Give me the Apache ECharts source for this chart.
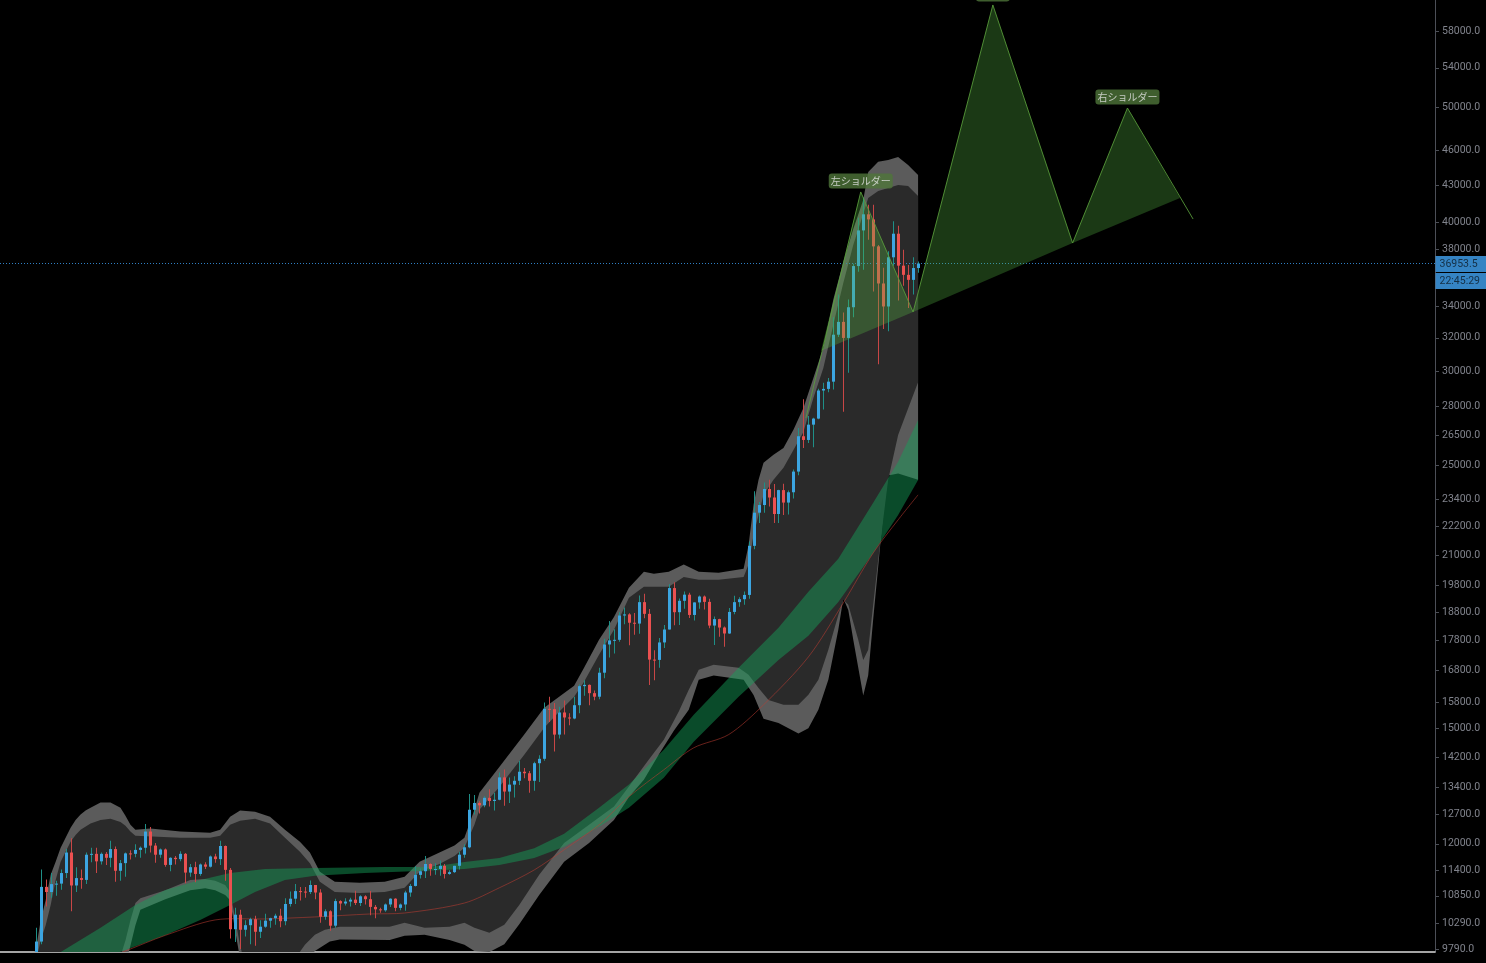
<!DOCTYPE html>
<html><head><meta charset="utf-8">
<script src="https://cdn.jsdelivr.net/npm/echarts@6/dist/echarts.min.js"></script>
<style>html,body{margin:0;padding:0;background:#000;overflow:hidden}#c{width:1486px;height:963px}</style>
</head><body><div id="c"></div>
<script>
// ---------------- DATA ----------------
const firstDate = '2020-07-26';
// daily candles [open, high, low, close] from 2020-07-26 to 2021-01-19
const ohlc = [
[9700,10200,9650,9930],[9930,11420,9880,11040],[11040,11200,10630,10930],[10930,11340,10810,11100],[11100,11170,10850,11110],[11110,11420,10980,11340],
[11340,11880,11230,11800],[11800,12130,10530,11070],[11070,11470,10930,11230],[11230,11420,11000,11190],[11190,11800,11100,11750],[11750,11910,11580,11770],[11770,11910,11340,11600],[11600,11800,11530,11770],[11770,11810,11520,11680],[11680,12070,11470,11880],
[11880,11940,11150,11390],[11390,11630,11170,11560],[11560,11800,11260,11780],[11780,11850,11640,11770],[11770,11990,11690,11860],[11860,11940,11680,11910],[11910,12470,11780,12290],[12290,12400,11800,11960],[11960,12020,11570,11750],[11750,11890,11680,11870],
[11870,11890,11480,11520],[11520,11690,11380,11680],[11680,11720,11530,11650],[11650,11830,11600,11770],[11770,11790,11120,11350],[11350,11540,11260,11470],[11470,11590,11140,11320],[11320,11550,11280,11530],[11530,11580,11430,11480],[11480,11730,11460,11710],[11710,11770,11570,11650],
[11650,12070,11520,11950],[11950,11960,11170,11410],[11410,11450,9990,10170],[10170,10600,9920,10460],[10460,10560,9790,10160],[10160,10350,10030,10250],[10250,10400,9880,10370],[10370,10440,9850,10120],[10120,10350,10000,10220],[10220,10480,10200,10340],
[10340,10400,10200,10390],[10390,10480,10260,10440],[10440,10580,10210,10330],[10330,10800,10250,10680],[10680,10940,10630,10790],[10790,11100,10680,10950],[10950,11040,10750,10940],[10940,11040,10810,10930],[10930,11180,10890,11080],[11080,11080,10780,10920],
[10920,10990,10300,10420],[10420,10570,10360,10530],[10530,10550,10140,10240],[10240,10790,10200,10740],[10740,10760,10550,10690],[10690,10800,10650,10730],[10730,10810,10630,10770],[10770,10960,10660,10700],[10700,10860,10640,10840],[10840,10860,10670,10780],
[10780,10950,10450,10620],[10620,10660,10390,10570],[10570,10600,10500,10550],[10550,10690,10520,10670],[10670,10800,10620,10790],[10790,10800,10530,10600],[10600,10690,10550,10670],[10670,10960,10540,10920],[10920,11100,10830,11060],[11060,11490,11050,11300],
[11300,11440,11220,11380],[11380,11720,11230,11540],[11540,11560,11280,11430],[11430,11560,11300,11430],[11430,11620,11280,11500],[11500,11540,11220,11320],[11320,11400,11300,11360],[11360,11500,11340,11500],[11500,11820,11420,11750],[11750,11990,11680,11920],
[11920,13220,11900,12820],[12820,13190,12700,12990],[12990,13030,12730,12930],[12930,13160,12880,13120],[13120,13340,12900,13040],[13040,13250,12800,13070],[13070,13780,13060,13650],[13650,13860,12920,13280],[13280,13650,12990,13460],[13460,13680,13130,13560],[13560,14100,13450,13800],
[13800,13900,13630,13760],[13760,13820,13250,13560],[13560,14070,13300,14030],[14030,14250,13530,14150],[14150,15780,14100,15590],[15590,15960,15200,15580],[15580,15770,14350,14830],[14830,15650,14720,15480],[15480,15840,14830,15330],[15330,15460,15100,15300],
[15300,15960,15280,15700],[15700,16340,15460,16290],[16290,16480,15990,16330],[16330,16340,15700,16070],[16070,16150,15850,15960],[15960,16880,15880,16720],[16720,17860,16540,17660],[17660,18480,17220,17800],[17800,18190,17350,17820],[17820,18800,17750,18680],
[18680,18970,18370,18720],[18720,18760,17630,18420],[18420,18770,18000,18390],[18390,19420,18030,19170],[19170,19480,18580,18740],[18740,18920,16330,17150],[17150,17460,16480,17140],[17140,17880,16880,17730],[17730,18340,17540,18180],[18180,19850,18180,19700],
[19700,19920,18330,18800],[18800,19310,18340,19220],[19220,19570,18930,19450],[19450,19520,18590,18700],[18700,19170,18500,19160],[19160,19420,18930,19380],[19380,19420,18900,19180],[19180,19300,18220,18320],[18320,18640,17640,18550],[18550,18560,17930,18250],
[18250,18290,17580,18040],[18040,18950,18020,18810],[18810,19410,18730,19170],[19170,19350,19000,19280],[19280,19570,19070,19440],[19440,21560,19300,21380],[21380,23770,21240,22800],[22800,23280,22350,23140],[23140,24170,22800,23870],[23870,24300,23070,23480],
[23480,24100,22350,22740],[22740,23840,22350,23820],[23820,24120,22700,23250],[23250,23800,22720,23720],[23720,24790,23430,24690],[24690,26870,24520,26440],[26440,28400,25850,26250],[26250,27500,26100,27040],[27040,27400,25880,27360],[27360,28990,27320,28890],[28890,29330,27850,28980],
[28980,29600,28800,29390],[29390,33300,28950,32190],[32190,34800,32050,33000],[33000,33600,27730,31990],[31990,34460,29900,33950],[33950,36940,33300,36770],[36770,40370,36360,39400],[39400,42000,36500,40650],[40650,41400,38700,40250],[40250,41400,35000,38200],
[38200,38300,30400,35550],[35550,36650,32550,34000],[34000,37850,32400,37400],[37400,40100,36800,39150],[39150,39750,34400,36800],[36800,37950,35400,36150],[36150,36850,33900,35800],[35800,37400,34800,36630],[36630,37100,36300,36953.5]
];
const lastPrice = 36953.5;
const countdown = '22:45:29';
const priceTicks = [9790,10290,10850,11400,12000,12700,13400,14200,15000,15800,16800,17800,18800,19800,21000,22200,23400,25000,26500,28000,30000,32000,34000,38000,40000,43000,46000,50000,54000,58000];

// Bollinger-style envelope (outer / inner edges)
const bandUpperOuter = [['2020-07-20',9500],['2020-07-25',9650],['2020-07-26',9760],['2020-07-27',10350],['2020-07-28',10760],['2020-07-29',11300],['2020-07-30',11590],['2020-07-31',11910],['2020-08-01',12140],['2020-08-02',12380],['2020-08-03',12570],['2020-08-04',12700],['2020-08-05',12800],['2020-08-06',12870],['2020-08-08',13000],['2020-08-10',13000],['2020-08-12',12870],['2020-08-13',12670],['2020-08-14',12450],['2020-08-15',12330],['2020-08-18',12360],['2020-08-24',12290],['2020-08-30',12260],['2020-09-01',12330],['2020-09-03',12650],['2020-09-05',12800],['2020-09-08',12770],['2020-09-11',12650],['2020-09-14',12330],['2020-09-17',12050],['2020-09-19',11800],['2020-09-21',11370],['2020-09-24',11150],['2020-09-29',11130],['2020-10-04',11150],['2020-10-08',11260],['2020-10-11',11590],['2020-10-15',11800],['2020-10-18',11960],['2020-10-20',12140],['2020-10-22',12820],['2020-10-23',13250],['2020-10-27',13930],['2020-11-01',14830],['2020-11-05',15620],['2020-11-08',15960],['2020-11-11',16300],['2020-11-13',16880],['2020-11-16',17820],['2020-11-19',18630],['2020-11-22',19710],['2020-11-25',20330],['2020-11-27',20250],['2020-11-30',20330],['2020-12-03',20620],['2020-12-06',20330],['2020-12-10',20290],['2020-12-15',20450],['2020-12-16',21420],['2020-12-17',23150],['2020-12-18',24300],['2020-12-19',25110],['2020-12-21',25510],['2020-12-23',25850],['2020-12-25',26770],['2020-12-27',27930],['2020-12-29',29600],['2020-12-31',31380],['2021-01-02',34470],['2021-01-04',37060],['2021-01-06',39510],['2021-01-08',41790],['2021-01-09',44120],['2021-01-11',45000],['2021-01-13',45160],['2021-01-15',45430],['2021-01-17',44730],['2021-01-19',43870]];
const bandUpperInner = [['2020-07-20',9400],['2020-07-26',9550],['2020-07-27',9950],['2020-07-28',10250],['2020-07-29',10660],['2020-07-30',11190],['2020-07-31',11590],['2020-08-01',11820],['2020-08-02',12050],['2020-08-03',12210],['2020-08-04',12330],['2020-08-06',12480],['2020-08-08',12570],['2020-08-10',12600],['2020-08-12',12520],['2020-08-13',12430],['2020-08-14',12290],['2020-08-15',12190],['2020-08-24',12140],['2020-08-30',12140],['2020-09-01',12190],['2020-09-03',12450],['2020-09-05',12550],['2020-09-08',12600],['2020-09-11',12480],['2020-09-14',12140],['2020-09-17',11820],['2020-09-19',11560],['2020-09-21',11150],['2020-09-24',10930],['2020-09-29',10910],['2020-10-04',10930],['2020-10-08',11020],['2020-10-11',11370],['2020-10-15',11540],['2020-10-18',11720],['2020-10-20',11910],['2020-10-22',12450],['2020-10-23',12820],['2020-10-27',13400],['2020-11-01',14260],['2020-11-05',15030],['2020-11-08',15500],['2020-11-11',15960],['2020-11-13',16430],['2020-11-16',17310],['2020-11-19',18170],['2020-11-22',19330],['2020-11-25',19750],['2020-11-30',19750],['2020-12-03',20130],['2020-12-06',20020],['2020-12-10',20020],['2020-12-15',20130],['2020-12-16',20620],['2020-12-17',21840],['2020-12-18',22700],['2020-12-19',23600],['2020-12-21',24300],['2020-12-23',24870],['2020-12-25',25750],['2020-12-27',26660],['2020-12-29',28480],['2020-12-31',30180],['2021-01-02',32810],['2021-01-04',35590],['2021-01-06',38310],['2021-01-08',40680],['2021-01-09',41960],['2021-01-11',42530],['2021-01-13',42780],['2021-01-15',43030],['2021-01-17',42950],['2021-01-19',42120]];
const bandLowerInner = [['2020-07-20',8800],['2020-08-05',8900],['2020-08-11',9400],['2020-08-12',9650],['2020-08-13',9950],['2020-08-14',10350],['2020-08-15',10700],['2020-08-16',10800],['2020-08-21',10970],['2020-08-26',11190],['2020-08-29',11210],['2020-08-31',11170],['2020-09-02',11080],['2020-09-03',10930],['2020-09-04',10400],['2020-09-05',9850],['2020-09-06',9500],['2020-09-12',9300],['2020-09-16',9600],['2020-09-18',9870],['2020-09-20',10060],['2020-09-22',10160],['2020-09-25',10220],['2020-10-05',10220],['2020-10-08',10300],['2020-10-12',10200],['2020-10-17',10220],['2020-10-20',10300],['2020-10-22',10200],['2020-10-25',10100],['2020-10-28',10260],['2020-10-31',10660],['2020-11-04',11300],['2020-11-09',12020],['2020-11-14',12450],['2020-11-19',12900],['2020-11-23',13590],['2020-11-26',14130],['2020-11-29',14680],['2020-12-02',15510],['2020-12-04',16175],['2020-12-06',16815],['2020-12-09',16980],['2020-12-14',16880],['2020-12-16',16650],['2020-12-18',16230],['2020-12-20',15860],['2020-12-23',15710],['2020-12-26',15710],['2020-12-28',16020],['2020-12-30',16490],['2021-01-01',17480],['2021-01-03',18700],['2021-01-04',19260],['2021-01-05',19070],['2021-01-07',17820],['2021-01-08',17140],['2021-01-09',17480],['2021-01-11',20810],['2021-01-13',24300],['2021-01-15',26510],['2021-01-17',27900],['2021-01-19',29350]];
const bandLowerOuter = [['2020-07-20',8600],['2020-08-05',8700],['2020-08-11',9100],['2020-08-13',9500],['2020-08-14',9850],['2020-08-15',10250],['2020-08-16',10560],['2020-08-21',10780],['2020-08-26',10970],['2020-08-29',11010],['2020-08-31',10970],['2020-09-02',10870],['2020-09-03',10760],['2020-09-04',10150],['2020-09-05',9600],['2020-09-06',9300],['2020-09-16',9100],['2020-09-18',9500],['2020-09-20',9750],['2020-09-23',9930],['2020-09-25',9970],['2020-10-05',9960],['2020-10-08',10040],['2020-10-12',10060],['2020-10-17',9960],['2020-10-20',9870],['2020-10-22',9750],['2020-10-25',9730],['2020-10-28',9880],['2020-10-31',10270],['2020-11-04',10870],['2020-11-09',11590],['2020-11-14',12020],['2020-11-19',12570],['2020-11-22',13140],['2020-11-25',13590],['2020-11-28',14270],['2020-12-01',14940],['2020-12-04',15560],['2020-12-06',16490],['2020-12-09',16630],['2020-12-15',16490],['2020-12-17',16010],['2020-12-19',15290],['2020-12-22',15170],['2020-12-26',14860],['2020-12-28',15010],['2020-12-30',15560],['2021-01-01',16490],['2021-01-03',18170],['2021-01-04',19320],['2021-01-05',18880],['2021-01-06',17820],['2021-01-08',16000],['2021-01-09',16640],['2021-01-10',18550],['2021-01-11',20530],['2021-01-12',22790],['2021-01-13',24500],['2021-01-15',24600],['2021-01-19',24300]];
// moving-average ribbon (green) and slow average (red)
const emaRibbonTop = [['2020-07-20',9300],['2020-07-31',9730],['2020-08-08',10200],['2020-08-15',10660],['2020-08-21',10975],['2020-08-28',11190],['2020-09-03',11340],['2020-09-10',11430],['2020-09-20',11450],['2020-10-04',11475],['2020-10-13',11475],['2020-10-20',11585],['2020-10-27',11675],['2020-11-03',11900],['2020-11-09',12240],['2020-11-16',12870],['2020-11-22',13460],['2020-11-29',14400],['2020-12-05',15415],['2020-12-14',16880],['2020-12-22',18240],['2020-12-28',19560],['2021-01-03',20850],['2021-01-10',23240],['2021-01-15',25160],['2021-01-19',27290]];
const emaRibbonBottom = [['2020-07-20',9050],['2020-07-27',9250],['2020-08-05',9500],['2020-08-13',9770],['2020-08-21',10050],['2020-08-28',10355],['2020-09-03',10660],['2020-09-08',10930],['2020-09-14',11190],['2020-09-20',11280],['2020-09-30',11340],['2020-10-11',11385],['2020-10-20',11430],['2020-10-27',11520],['2020-11-03',11675],['2020-11-09',11930],['2020-11-16',12405],['2020-11-22',12870],['2020-11-29',13640],['2020-12-05',14625],['2020-12-14',15960],['2020-12-22',17140],['2020-12-28',17960],['2021-01-03',19180],['2021-01-10',21090],['2021-01-15',22700],['2021-01-19',24296]];
const slowAverage = [['2020-07-20',8900],['2020-08-13',9750],['2020-08-21',10050],['2020-08-31',10355],['2020-09-10',10375],['2020-09-20',10415],['2020-10-01',10475],['2020-10-08',10495],['2020-10-20',10700],['2020-10-27',11020],['2020-11-03',11408],['2020-11-09',11864],['2020-11-16',12450],['2020-11-22',13150],['2020-11-29',13853],['2020-12-05',14455],['2020-12-12',14830],['2020-12-19',15710],['2020-12-28',17240],['2021-01-04',19140],['2021-01-10',21090],['2021-01-15',22485],['2021-01-19',23600]];
// head & shoulders drawing: start, left shoulder, neck 1, head, neck 2, right shoulder, end
const hsPath = [['2020-12-27T12:00',27390],['2021-01-07T12:00',42450],['2021-01-18T00:00',33640],['2021-02-03T00:00',60990],['2021-02-19T00:00',38450],['2021-03-02T00:00',49950],['2021-03-15T04:00',40280]];
const hsNeckCross = [['2020-12-30T12:00',31190],['2021-03-12T13:00',41950]];
const hsLabels = ['左ショルダー','ヘッド','右ショルダー'];

// ---------------- HELPERS ----------------
const DAY = 864e5;
function T(s){ return Date.parse(s.length === 10 ? s + 'T00:00:00Z' : s + ':00Z'); }
const L = Math.log;
const t0 = T(firstDate);
const dates = ohlc.map((_, i) => t0 + i * DAY);
const X0 = T('2020-07-27') - 8.164 * DAY;
const X1 = X0 + 287.86 * DAY;
const YMIN = L(9731), YMAX = L(61580);

const BODY_UP = '#3ca5e1', BODY_DN = '#eb5050', WICK_UP = '#1f8f87', WICK_DN = '#c84646';

function clipOf(params){ const c = params.coordSys; return {type:'rect', shape:{x:c.x, y:c.y, width:c.width, height:c.height}}; }
function pts(api, arr){ return arr.map(p => api.coord([T(p[0]), L(p[1])])); }

function band(upper, lower, fill, z){
  return { type:'custom', z, silent:true, clip:true, data:[[X0, YMIN]], encode:{x:0,y:1},
    renderItem(params, api){
      const p = pts(api, upper).concat(pts(api, lower).reverse());
      return { type:'polygon', shape:{points:p}, style:{fill}, clipPath: clipOf(params) };
    } };
}

const option = {
  backgroundColor:'#000000',
  animation:false,
  grid:{left:0, right:51, top:0, bottom:11},
  xAxis:{ type:'time', min:X0, max:X1,
    axisLine:{show:true, onZero:false, lineStyle:{color:'#dcdcdc', width:1.5}},
    axisTick:{show:false}, axisLabel:{show:false}, splitLine:{show:false} },
  yAxis:{ type:'value', position:'right', min:YMIN, max:YMAX,
    splitLine:{show:false},
    axisLine:{show:true, lineStyle:{color:'#4c4f57'}},
    axisTick:{show:true, length:4, customValues: priceTicks.map(L), lineStyle:{color:'#4c4f57'}},
    axisLabel:{ customValues: priceTicks.map(L), margin:7, color:'#80838c', fontSize:10.5, fontFamily:'Roboto',
      formatter: v => Math.round(Math.exp(v)).toFixed(1) } },
  series:[
    band(bandUpperOuter, bandLowerOuter, '#5b5b5b', 1),
    band(bandUpperInner, bandLowerInner, '#2a2a2a', 2),
    band(emaRibbonTop, emaRibbonBottom, 'rgba(22,160,90,0.47)', 3),
    { type:'custom', z:4, silent:true, clip:true, data:[[X0, YMIN]], encode:{x:0,y:1},
      renderItem(params, api){
        return { type:'polyline', shape:{points: pts(api, slowAverage), smooth:0.3}, style:{stroke:'rgba(190,60,50,0.55)', lineWidth:1, fill:null}, clipPath: clipOf(params) };
      } },
    { type:'line', z:5, silent:true, symbol:'none', data:[[X0, L(lastPrice)],[X1, L(lastPrice)]],
      lineStyle:{color:'#2f7fc4', width:1, type:[1,2]} },
    { type:'custom', z:6, silent:true, clip:true,
      data: ohlc.map((d, i) => [dates[i], L(d[0]), L(d[3]), L(d[2]), L(d[1])]),
      encode:{x:0, y:[1,2,3,4]},
      renderItem(params, api){
        const t = api.value(0), o = api.value(1), c = api.value(2), lo = api.value(3), hi = api.value(4);
        const po = api.coord([t,o]), pc = api.coord([t,c]), pl = api.coord([t,lo]), ph = api.coord([t,hi]);
        const x = Math.round(po[0]);
        const up = c >= o;
        const top = Math.min(po[1], pc[1]);
        const h = Math.max(1, Math.abs(po[1]-pc[1]));
        return { type:'group', clipPath: clipOf(params), children:[
          {type:'rect', shape:{x:x, y:ph[1], width:1, height:Math.max(1, pl[1]-ph[1])}, style:{fill: up?WICK_UP:WICK_DN}},
          {type:'rect', shape:{x:x-1, y:top, width:3, height:h}, style:{fill: up?BODY_UP:BODY_DN}}
        ]};
      } },
    { type:'custom', z:7, silent:true, clip:true, data:[[X0, YMIN]], encode:{x:0,y:1},
      renderItem(params, api){
        const P = pts(api, hsPath), N = pts(api, hsNeckCross);
        const fill = 'rgba(90,190,70,0.30)', stroke = 'rgba(90,160,60,0.85)';
        return { type:'group', clipPath: clipOf(params), children:[
          {type:'polygon', shape:{points:[N[0], P[1], P[2]]}, style:{fill}},
          {type:'polygon', shape:{points:[P[2], P[3], P[4]]}, style:{fill}},
          {type:'polygon', shape:{points:[P[4], P[5], N[1]]}, style:{fill}},
          {type:'polyline', shape:{points:P}, style:{stroke, lineWidth:1, fill:null}}
        ]};
      } },
    { type:'scatter', z:8, silent:true, clip:false, symbolSize:1, itemStyle:{color:'rgba(0,0,0,0)'},
      data:[1,3,5].map((k, i) => ({ name: hsLabels[i], value:[T(hsPath[k][0]), L(hsPath[k][1])] })),
      label:{ show:true, position:'top', distance:3, formatter:'{b}', color:'#e6e6e6', fontSize:10,
        fontFamily:'Noto Sans CJK JP', backgroundColor:'#4f753a', borderRadius:3, padding:[3,2,2,2] } },
    { type:'scatter', z:9, silent:true, clip:false, symbolSize:1, itemStyle:{color:'rgba(0,0,0,0)'},
      data:[[X1, L(lastPrice)]],
      label:{ show:true, position:'right', distance:0, offset:[0,9],
        formatter: '{p|' + lastPrice.toFixed(1) + '}\n{t|' + countdown + '}',
        rich:{
          p:{ backgroundColor:'#42a5f5', color:'#0d1a26', fontSize:10.5, fontFamily:'Roboto', width:46, height:16, lineHeight:17, padding:[0,2,0,4] },
          t:{ backgroundColor:'#42a5f5', color:'#0d1a26', fontSize:10.5, fontFamily:'Roboto', width:46, height:16, lineHeight:17, padding:[0,2,0,4] }
        } } }
  ]
};
const chart = echarts.init(document.getElementById('c'), null, {renderer:'canvas'});
chart.setOption(option);
</script></body></html>
